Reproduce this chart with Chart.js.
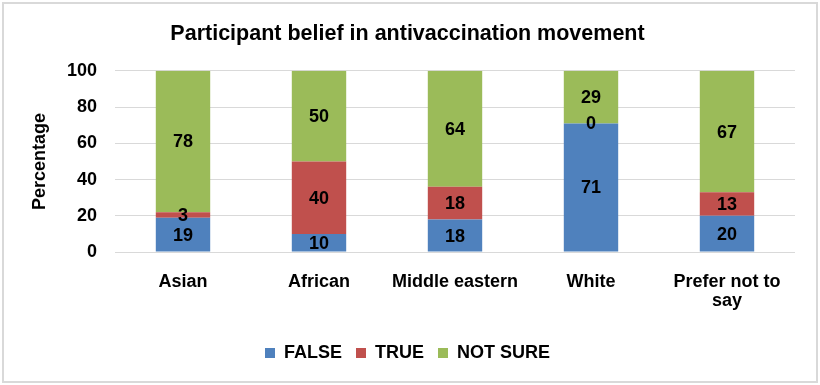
<!DOCTYPE html>
<html>
<head>
<meta charset="utf-8">
<script src="https://cdn.jsdelivr.net/npm/chart.js@4.4.1/dist/chart.umd.min.js"></script>
<style>
  html,body{margin:0;padding:0;background:#fff;}
  #wrap{width:820px;height:385px;position:relative;}
</style>
</head>
<body>
<div id="wrap"><canvas id="chart" width="820" height="385"></canvas></div>
<script>
const categories=["Asian","African","Middle eastern","White",["Prefer not to","say"]];
const falseVals=[19,10,18,71,20];
const trueVals=[3,40,18,0,13];
const notSureVals=[78,50,64,29,67];
const yTicks=[0,20,40,60,80,100];

const FONT="'Liberation Sans', Arial, sans-serif";
const ctx=document.getElementById("chart");

/* value labels in the middle of each segment */
const segLabels={
  id:"segLabels",
  afterDatasetsDraw(chart){
    const c=chart.ctx;
    c.save();
    c.font="bold 18px "+FONT;
    c.fillStyle="#000";
    c.textAlign="center";
    c.textBaseline="middle";
    chart.data.datasets.forEach((ds,i)=>{
      chart.getDatasetMeta(i).data.forEach((el,j)=>{
        c.fillText(ds.data[j],el.x,(el.y+el.base)/2+1);
      });
    });
    c.restore();
  }
};

/* light frame around the whole picture */
const frame={
  id:"frame",
  afterDraw(chart){
    const c=chart.ctx;
    c.save();
    c.strokeStyle="#d9d9d9";
    c.lineWidth=2;
    c.strokeRect(3,3,814,379);
    c.restore();
  }
};

new Chart(ctx,{
  type:"bar",
  data:{
    labels:categories,
    datasets:[
      {label:"FALSE",data:falseVals,backgroundColor:"#4F81BD"},
      {label:"TRUE",data:trueVals,backgroundColor:"#C0504D"},
      {label:"NOT SURE",data:notSureVals,backgroundColor:"#9BBB59"}
    ]
  },
  options:{
    responsive:false,
    animation:false,
    datasets:{bar:{barPercentage:0.4,categoryPercentage:1}},
    layout:{padding:{left:20,right:25,top:0,bottom:13}},
    plugins:{
      title:{
        display:true,
        text:"Participant belief in antivaccination movement",
        color:"#000",
        font:{family:FONT,size:21.5,weight:"bold"},
        padding:{top:21,bottom:24}
      },
      legend:{
        position:"bottom",
        labels:{
          color:"#000",
          font:{family:FONT,size:18,weight:"bold"},
          boxWidth:10,boxHeight:10,padding:14
        }
      },
      tooltip:{enabled:false}
    },
    scales:{
      x:{
        stacked:true,
        afterFit(axis){axis.height+=7;},
        grid:{display:false},
        border:{display:false},
        ticks:{color:"#000",font:{family:FONT,size:18,weight:"bold",lineHeight:1.08},padding:12,maxRotation:0,autoSkip:false}
      },
      y:{
        stacked:true,
        min:0,max:100,
        afterBuildTicks(axis){axis.ticks=yTicks.map(v=>({value:v}));},
        afterFit(axis){axis.width=95;},
        grid:{color:"#d9d9d9",lineWidth:1,drawTicks:false},
        border:{display:false},
        ticks:{color:"#000",font:{family:FONT,size:18,weight:"bold"},padding:18},
        title:{display:true,text:"Percentage",color:"#000",font:{family:FONT,size:18,weight:"bold"},padding:{top:9,bottom:0}}
      }
    }
  },
  plugins:[segLabels,frame]
});
</script>
</body>
</html>
